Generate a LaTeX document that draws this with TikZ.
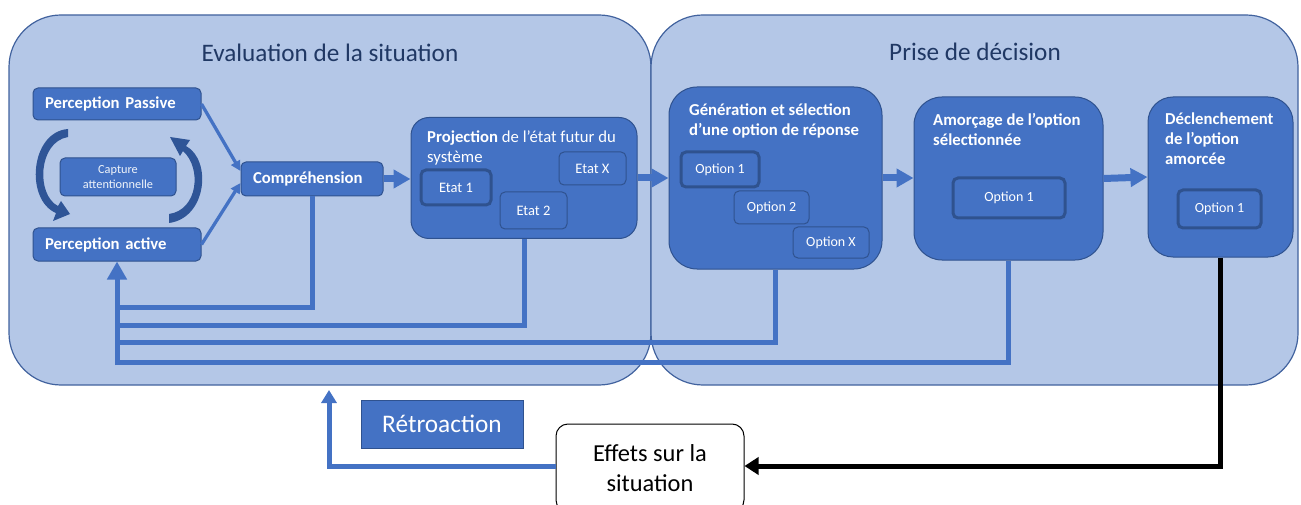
\documentclass[tikz,border=0pt]{standalone}
\usepackage{fontspec}
\setmainfont{Carlito}
\usetikzlibrary{arrows.meta,calc}
\definecolor{bgf}{HTML}{B4C7E7}
\definecolor{bgd}{HTML}{41629E}
\definecolor{nf}{HTML}{4472C4}
\definecolor{nd}{HTML}{2F528F}
\definecolor{navy}{HTML}{203864}
\definecolor{carc}{HTML}{2F5597}
\begin{document}
\begin{tikzpicture}[x=1pt,y=-1pt,
  bigbox/.style={draw=bgd,line width=1.2pt,fill=bgf,rounded corners=52pt},
  blk/.style={draw=nd,line width=1pt,fill=nf,rounded corners=5pt,inner sep=0pt,text=white},
  thk/.style={draw=nd,line width=3pt,fill=nf,rounded corners=5pt,inner sep=0pt,text=white},
  stage/.style={draw=nd,line width=1pt,fill=nf,inner sep=0pt},
  btxt/.style={text=white,font=\fontsize{16.7}{20}\selectfont\bfseries,inner sep=0pt,anchor=north west,align=left},
  bfont/.style={font=\fontsize{16.7}{20}\selectfont\bfseries},
  small/.style={font=\fontsize{14.5}{16}\selectfont},
  opt/.style={font=\fontsize{14}{16}\selectfont},
  ttl/.style={text=navy,font=\fontsize{25.2}{30}\selectfont,inner sep=0pt,anchor=base},
  fb/.style={draw=nf,line width=5pt},
  bigarrow/.style={draw=nf,line width=7pt,-{Triangle[width=18pt,length=17pt]}},
  thinarrow/.style={draw=nf,line width=3.3pt,-{Triangle[width=10pt,length=10pt]}},
]
\useasboundingbox (0,0) rectangle (1301,505);
% big containers
\node[bigbox,minimum width=642pt,minimum height=370pt] (eval) at (330,200) {};
\node[bigbox,minimum width=647pt,minimum height=370pt] (dec) at (974.5,200) {};
\node[ttl] (evalT) at (330,62) {Evaluation de la situation};
\node[ttl] (decT) at (975,61) {Prise de décision};
% curved arrows
\fill[carc] (68,129) .. controls (30,132) and (25,200) .. (56,213) -- (53,221) -- (70,214) -- (61,201) -- (58,206) .. controls (36,195) and (38,142) .. (68,137) -- cycle;
\fill[carc] (169,223) .. controls (207,218) and (212,160) .. (186,146) -- (190,140) -- (170,137) -- (180,156) -- (183,151) .. controls (202,168) and (198,210) .. (169,214) -- cycle;
% left part nodes
\node[blk,bfont,minimum width=168pt,minimum height=32pt,text width=144pt,align=left] (pp) at (117,104) {Perception Passive};
\node[blk,bfont,minimum width=168pt,minimum height=33pt,text width=144pt,align=left] (pa) at (117,244.5) {Perception active};
\node[blk,minimum width=116pt,minimum height=38pt,text width=116pt,align=center,text=white!92!nf,font=\fontsize{12.3}{14.5}\selectfont] (cap) at (118,177) {Capture\\attentionnelle};
\node[blk,bfont,minimum width=142pt,minimum height=34pt,text width=118pt,align=left] (comp) at (312,179) {Compréhension};
% projection
\node[stage,rounded corners=18pt,minimum width=226pt,minimum height=121pt] (proj) at (524,178) {};
\node[btxt] (projT) at (427,131) {\textbf{Projection} \mdseries de l’état futur du\\\mdseries système};
\node[thk,small,minimum width=70pt,minimum height=35pt] (e1) at (456,187.5) {Etat 1};
\node[blk,small,minimum width=67pt,minimum height=37pt] (e2) at (533.5,210.5) {Etat 2};
\node[blk,small,minimum width=67pt,minimum height=33pt] (ex) at (592.5,168.5) {Etat X};
% generation
\node[stage,rounded corners=28pt,minimum width=213pt,minimum height=182pt] (gen) at (775.5,178) {};
\node[btxt] (genT) at (689,104) {Génération et sélection\\d’une option de réponse};
\node[thk,opt,minimum width=78pt,minimum height=35pt] (g1) at (720,169.5) {Option 1};
\node[blk,opt,minimum width=75pt,minimum height=33pt] (g2) at (771.5,207.5) {Option 2};
\node[blk,opt,minimum width=76pt,minimum height=31pt] (gx) at (831,242.5) {Option X};
% amorcage
\node[stage,rounded corners=28pt,minimum width=189pt,minimum height=163pt] (amo) at (1008.5,178.5) {};
\node[btxt] (amoT) at (933,113) {Amorçage de l’option\\sélectionnée};
\node[thk,opt,minimum width=112pt,minimum height=40pt] (a1) at (1009,198) {Option 1};
% declenchement
\node[stage,rounded corners=25pt,minimum width=145pt,minimum height=160pt] (decl) at (1220.5,177) {};
\node[btxt] (declT) at (1165,113) {Déclenchement\\de l’option\\amorcée};
\node[thk,opt,minimum width=83pt,minimum height=38pt] (d1) at (1219.5,209) {Option 1};
% arrows
\draw[thinarrow] (pp.east) -- ([yshift=8pt]comp.west);
\draw[thinarrow] (pa.east) -- ([yshift=-4pt]comp.west);
\draw[bigarrow] (comp.east) -- (proj.west |- comp.east);
\draw[bigarrow] (proj.east) -- (gen.west);
\draw[bigarrow] (gen.east) -- (amo.west |- gen.east);
\draw[bigarrow] (amo.east) -- (decl.west);
% feedback lines
\coordinate (t1) at (117,307);
\coordinate (t2) at (117,325);
\coordinate (t3) at (117,342.5);
\coordinate (t4) at (117,362.5);
\draw[fb] (comp.south) |- (t1);
\draw[fb] (proj.south) |- (t2);
\draw[fb] (gen.south) |- (t3);
\draw[fb] (amo.south) |- (t4);
\draw[fb,-{Triangle[width=19pt,length=18pt]}] ([yshift=-2.5pt]t4) -- (pa.south);
% bottom part
\node[draw=nd,line width=0.8pt,fill=nf,text=white,minimum width=162pt,minimum height=48pt,inner sep=0pt,font=\fontsize{25.3}{30}\selectfont] (retro) at (442,424) {Rétroaction};
\node[draw=black,line width=1pt,fill=white,rounded corners=12pt,minimum width=188pt,minimum height=88pt,inner sep=0pt,align=center,font=\fontsize{24.4}{30}\selectfont] (eff) at (650,468) {Effets sur la\\situation};
\coordinate (fbtip) at (329,390);
\draw[draw=nf,line width=5pt,-{Triangle[width=15pt,length=13pt]}] ([yshift=2pt]eff.west) -| (fbtip);
\draw[draw=black,line width=5pt,-{Triangle[width=17pt,length=14pt]}] (decl.south) |- ([yshift=2pt]eff.east);
\end{tikzpicture}
\end{document}
